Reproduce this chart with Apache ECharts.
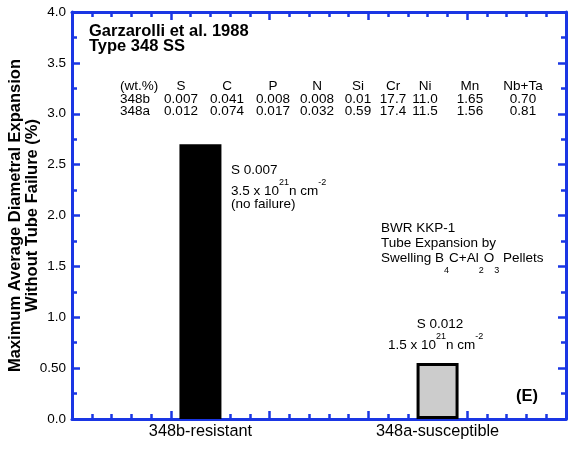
<!DOCTYPE html>
<html>
<head>
<meta charset="utf-8">
<script src="https://cdn.jsdelivr.net/npm/echarts@6/dist/echarts.min.js"></script>
<style>
  html, body { margin: 0; padding: 0; background: #fff; }
  #chart { width: 571px; height: 455px; }
</style>
</head>
<body>
<div id="chart"></div>
<script>
// Tube expansion results, Garzarolli et al. 1988 (Type 348 SS)
const categories = ['348b-resistant', '348a-susceptible'];
const expansion = [2.7, 0.55];          // max average diametral expansion, %
const sulfur = ['0.007', '0.012'];       // wt.% S of each heat
const fluence = ['3.5', '1.5'];          // x 10^21 n cm^-2
const yTickLabels = ['0.0', '0.50', '1.0', '1.5', '2.0', '2.5', '3.0', '3.5', '4.0'];

// Composition table (wt.%)
const elements = ['S', 'C', 'P', 'N', 'Si', 'Cr', 'Ni', 'Mn', 'Nb+Ta'];
const comp348b = ['0.007', '0.041', '0.008', '0.008', '0.01', '17.7', '11.0', '1.65', '0.70'];
const comp348a = ['0.012', '0.074', '0.017', '0.032', '0.59', '17.4', '11.5', '1.56', '0.81'];

// Layout helpers
const AXIS_BLUE = '#1a36e4';
const FONT = '"Liberation Sans", Arial, Helvetica, sans-serif';
const barSlots = [1.3, 3.7];             // bar centres on the 0..5 frame scale
const SLOT = 0.2;                        // minor tick spacing on the frame scale
const slotCount = Math.round(5 / SLOT);
const slotLabels = new Array(slotCount).fill('');
barSlots.forEach((p, i) => { slotLabels[Math.round(p / SLOT - 0.5)] = categories[i]; });

const barStyles = [
  { color: '#000000', borderColor: '#000000', borderWidth: 0 },
  { color: '#cccccc', borderColor: '#000000', borderWidth: 3 }
];
const barData = expansion.map((v, i) => ({ value: [barSlots[i], v], itemStyle: barStyles[i] }));

const axisLine = { show: true, onZero: false, lineStyle: { color: AXIS_BLUE, width: 3 } };
const majorTick = { show: true, inside: true, length: 8, lineStyle: { color: AXIS_BLUE, width: 2.5 } };
const minorTick = { show: true, length: 5, lineStyle: { color: AXIS_BLUE, width: 2.5 } };

function txt(x, y, text, opts) {
  const o = opts || {};
  return {
    type: 'text', x: x, y: y, z: 100,
    style: Object.assign({
      text: text,
      fill: '#000',
      fontFamily: FONT,
      fontSize: 13.5,
      fontWeight: 'normal',
      align: o.align || 'left',
      textAlign: o.align || 'left',
      verticalAlign: 'middle',
      textVerticalAlign: 'middle'
    }, o.style || {})
  };
}

// Composition table
const colX = [181, 227, 273, 317, 358, 393, 425, 470, 523];
const tableFont = { fontSize: 13.5 };
const graphics = [];
graphics.push(txt(89, 31, 'Garzarolli et al. 1988', { style: { fontSize: 16.5, fontWeight: 'bold' } }));
graphics.push(txt(89, 46, 'Type 348 SS', { style: { fontSize: 16.5, fontWeight: 'bold' } }));
graphics.push(txt(120, 86, '(wt.%)', { style: tableFont }));
graphics.push(txt(120, 99, '348b', { style: tableFont }));
graphics.push(txt(120, 111, '348a', { style: tableFont }));
elements.forEach((e, i) => {
  graphics.push(txt(colX[i], 86, e, { align: 'center', style: tableFont }));
  graphics.push(txt(colX[i], 99, comp348b[i], { align: 'center', style: tableFont }));
  graphics.push(txt(colX[i], 111, comp348a[i], { align: 'center', style: tableFont }));
});

// Fluence text with raised exponents
const supRich = {
  m: { fontFamily: FONT, fontSize: 13.5, lineHeight: 26, fill: '#000' },
  s: { fontFamily: FONT, fontSize: 9, lineHeight: 12, verticalAlign: 'top', fill: '#000' }
};
function fluenceText(f) { return '{m|' + f + ' x 10}{s|21}{m|n cm}{s|-2}'; }

graphics.push(txt(231, 170, 'S ' + sulfur[0]));
graphics.push(txt(231, 191, fluenceText(fluence[0]), { style: { rich: supRich } }));
graphics.push(txt(231, 204, '(no failure)'));

graphics.push(txt(440, 324, 'S ' + sulfur[1], { align: 'center' }));
graphics.push(txt(388, 345, fluenceText(fluence[1]), { style: { rich: supRich } }));

// Irradiation note with lowered subscripts
const subRich = {
  m: { fontFamily: FONT, fontSize: 13.5, lineHeight: 34, fill: '#000' },
  s: { fontFamily: FONT, fontSize: 9, lineHeight: 10, verticalAlign: 'bottom', fill: '#000' }
};
graphics.push(txt(381, 228, 'BWR KKP-1'));
graphics.push(txt(381, 243, 'Tube Expansion by'));
graphics.push(txt(381, 258, '{m|Swelling B}{s|4}{m|C+Al}{s|2}{m|O}{s|3}{m| Pellets}', { style: { rich: subRich } }));

graphics.push(txt(516, 396, '(E)', { style: { fontSize: 16.5, fontWeight: 'bold' } }));

const frameX = {
  type: 'value', min: 0, max: 5, interval: 1,
  axisLine: axisLine, axisTick: majorTick,
  minorTick: Object.assign({ splitNumber: 5 }, minorTick),
  axisLabel: { show: false }, splitLine: { show: false }, minorSplitLine: { show: false }
};
const frameY = {
  type: 'value', min: 0, max: 4, interval: 0.5,
  axisLine: axisLine, axisTick: majorTick,
  minorTick: Object.assign({ splitNumber: 2 }, minorTick),
  splitLine: { show: false }, minorSplitLine: { show: false }
};

const chart = echarts.init(document.getElementById('chart'), null, { renderer: 'canvas' });
chart.setOption({
  animation: false,
  backgroundColor: '#ffffff',
  grid: { left: 72, right: 5, top: 12, bottom: 36, containLabel: false, outerBoundsMode: 'none' },
  xAxis: [
    Object.assign({ position: 'bottom' }, frameX),
    Object.assign({ position: 'top' }, frameX),
    {
      type: 'category', position: 'bottom', data: slotLabels, boundaryGap: true,
      axisLine: { show: false }, axisTick: { show: false },
      axisLabel: { interval: 0, margin: 5, color: '#000', fontFamily: FONT, fontSize: 16.3 }
    }
  ],
  yAxis: [
    Object.assign({
      position: 'left',
      name: 'Maximum Average Diametral Expansion\nWithout Tube Failure (%)',
      nameLocation: 'middle', nameGap: 31, nameMoveOverlap: false,
      nameTextStyle: { color: '#000', fontFamily: FONT, fontSize: 16.5, fontWeight: 'bold', lineHeight: 17 },
      axisLabel: {
        margin: 6, color: '#000', fontFamily: FONT, fontSize: 13.5,
        formatter: (v) => yTickLabels[Math.round(v / 0.5)]
      }
    }, frameY),
    Object.assign({ position: 'right', axisLabel: { show: false } }, frameY)
  ],
  series: [{
    type: 'bar',
    xAxisIndex: 0, yAxisIndex: 0,
    barWidth: 42,
    data: barData
  }],
  graphic: { elements: graphics }
});
</script>
</body>
</html>
